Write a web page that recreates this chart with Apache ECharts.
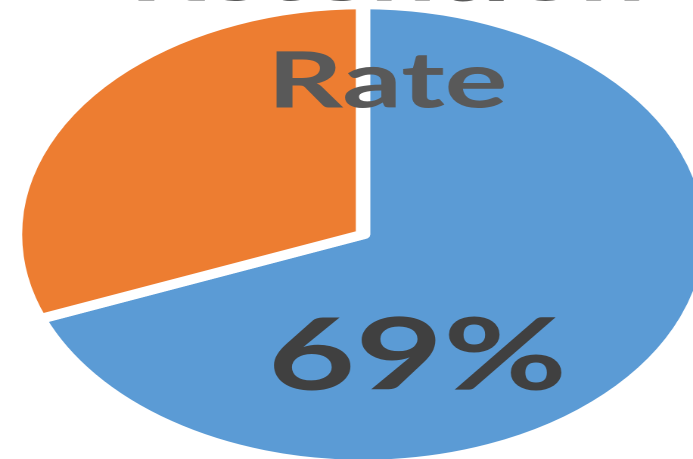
<!DOCTYPE html>
<html>
<head>
<meta charset="utf-8">
<script src="https://cdn.jsdelivr.net/npm/echarts@6/dist/echarts.min.js"></script>
<style>
  html, body { margin: 0; padding: 0; background: #fff; }
  #wrap { width: 693px; height: 459px; overflow: hidden; position: relative; }
  #chart { width: 458px; height: 459px; transform: scaleX(1.5131); transform-origin: 0 0; }
</style>
</head>
<body>
<div id="wrap"><div id="chart"></div></div>
<script>
const titleText = 'Retention\nRate';
const categories = ['Retained', 'Not retained'];
const values = [69, 31];
const sliceColors = ['#5B9BD5', '#ED7D31'];
const showLabel = [true, false];

const chart = echarts.init(document.getElementById('chart'), null, { renderer: 'canvas', devicePixelRatio: 2 });
chart.setOption({
  animation: false,
  title: {
    text: titleText,
    left: 256,
    top: -78,
    padding: 0,
    textAlign: 'center',
    textStyle: {
      fontFamily: 'Lato',
      fontWeight: 'bold',
      fontSize: 78,
      lineHeight: 107,
      color: '#595959'
    }
  },
  series: [{
    type: 'pie',
    center: [239.9, 234.5],
    radius: 230,
    startAngle: 90,
    clockwise: true,
    avoidLabelOverlap: false,
    emphasis: { disabled: true },
    itemStyle: { borderColor: '#ffffff', borderWidth: 9.5 },
    labelLine: { show: false },
    label: {
      position: 'inside',
      formatter: '{c}%',
      fontFamily: 'Lato',
      fontWeight: 'bold',
      fontSize: 100,
      color: '#404040'
    },
    labelLayout: function (p) {
      if (p.dataIndex === 0) return { x: 275.9, y: 357, align: 'center', verticalAlign: 'middle' };
      return {};
    },
    data: categories.map((c, i) => ({
      name: c,
      value: values[i],
      itemStyle: { color: sliceColors[i] },
      label: { show: showLabel[i] }
    }))
  }]
});
</script>
</body>
</html>
